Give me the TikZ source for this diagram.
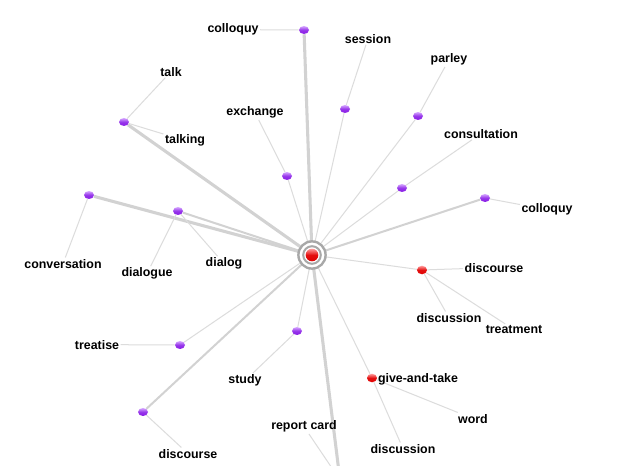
\documentclass[tikz,border=0pt]{standalone}
\usepackage{fontspec}
\setmainfont{Liberation Sans}
\usetikzlibrary{shapes.geometric,backgrounds}
\definecolor{edgegray}{HTML}{DCDCDC}
\definecolor{thickgray}{HTML}{D2D2D2}
\definecolor{ringgray}{HTML}{A8A8A8}
\definecolor{ptop}{HTML}{D6A8FF}
\definecolor{pbot}{HTML}{8A1FE6}
\definecolor{rtop}{HTML}{FF9A9A}
\definecolor{rbot}{HTML}{E00000}
\tikzset{
  lbl/.style={font=\bfseries\fontsize{9.3}{11}\selectfont, inner sep=1pt, yshift=-1.2pt},
  pball/.style={ellipse, minimum width=7.5pt, minimum height=6pt, inner sep=0pt,
    top color=ptop, bottom color=pbot, middle color=pbot!85!ptop},
  rball/.style={ellipse, minimum width=7.5pt, minimum height=6.4pt, inner sep=0pt,
    top color=rtop, bottom color=rbot, middle color=rbot!90!rtop},
  thin/.style={draw=edgegray, line width=0.75pt},
  med/.style={draw=thickgray, line width=1.5pt},
  thick/.style={draw=thickgray, line width=2.3pt},
}
\begin{document}
\begin{tikzpicture}[x=0.75pt,y=-0.75pt]
\useasboundingbox (0,0) rectangle (632,466);
\clip (0,0) rectangle (632,466);

% centre
\coordinate (c) at (312,255);

% balls
\node[pball] (b1) at (304,30) {};
\node[pball] (b2) at (345,109) {};
\node[pball] (b3) at (418,116) {};
\node[pball] (b4) at (402,188) {};
\node[pball] (b5) at (485,198) {};
\node[pball] (b6) at (287,176) {};
\node[pball] (b7) at (124,122) {};
\node[pball] (b8) at (89,195) {};
\node[pball] (b9) at (178,211) {};
\node[rball] (b10) at (422,270) {};
\node[pball] (b11) at (180,345) {};
\node[pball] (b12) at (297,331) {};
\node[rball] (b13) at (372,378) {};
\node[pball] (b14) at (143,412) {};
\node[pball] (b15) at (340,480) {};

% labels
\node[lbl] (l1) at (233,28) {colloquy};
\node[lbl] (l2) at (368,37) {session};
\node[lbl] (l3) at (449,58) {parley};
\node[lbl] (l4) at (481,132) {consultation};
\node[lbl] (l5) at (547,208) {colloquy};
\node[lbl] (l6) at (255,111) {exchange};
\node[lbl] (l7a) at (171,70) {talk};
\node[lbl] (l7b) at (185,139) {talking};
\node[lbl] (l8) at (63,262) {conversation};
\node[lbl] (l9a) at (147,272) {dialogue};
\node[lbl] (l9b) at (224,262) {dialog};
\node[lbl] (l10a) at (494,266) {discourse};
\node[lbl] (l10b) at (449,316) {discussion};
\node[lbl] (l10c) at (514,328) {treatment};
\node[lbl] (l11) at (97,343) {treatise};
\node[lbl] (l12) at (245,379) {study};
\node[lbl] (l13a) at (418,378) {give-and-take};
\node[lbl] (l13b) at (473,417) {word};
\node[lbl] (l13c) at (403,447) {discussion};
\node[lbl] (l14) at (188,452) {discourse};
\node[lbl] (l15) at (304,425) {report card};

\begin{scope}[on background layer]
\fill[white] (0,0) rectangle (632,466);
% centre spokes
\draw[thick] (c) -- (b1);
\draw[thin] (c) -- (b2);
\draw[thin] (c) -- (b3);
\draw[thin] (c) -- (b4);
\draw[med] (c) -- (b5);
\draw[thin] (c) -- (b6);
\draw[thick] (c) -- (b7);
\draw[thick] (c) -- (b8);
\draw[med] (c) -- (b9);
\draw[thin] (c) -- (b10);
\draw[thin] (c) -- (b11);
\draw[thin] (c) -- (b12);
\draw[thin] (c) -- (b13);
\draw[med] (c) -- (b14);
\draw[thick] (c) -- (b15);
% leaves
\draw[thin] (b1) -- (l1);
\draw[thin] (b2) -- (l2);
\draw[thin] (b3) -- (l3);
\draw[thin] (b4) -- (l4);
\draw[thin] (b5) -- (l5);
\draw[thin] (b6) -- (l6);
\draw[thin] (b7) -- (l7a);
\draw[thin] (b7) -- (l7b);
\draw[thin] (b8) -- (l8);
\draw[thin] (b9) -- (l9a);
\draw[thin] (b9) -- (l9b);
\draw[thin] (b10) -- (l10a);
\draw[thin] (b10) -- (l10b);
\draw[thin] (b10) -- (l10c);
\draw[thin] (b11) -- (l11);
\draw[thin] (b12) -- (l12);
\draw[thin] (b13) -- (l13b);
\draw[thin] (b13) -- (l13c);
\draw[thin] (b14) -- (l14);
\draw[thin] (b15) -- (l15);
\end{scope}

% centre node
\fill[white] (c) circle[radius=10.5pt];
\draw[ringgray, line width=1.8pt] (c) circle[radius=10.2pt];
\draw[ringgray, line width=1.5pt] (c) circle[radius=6.6pt];
\node[circle, minimum size=9.5pt, inner sep=0pt, top color=rtop, bottom color=rbot, middle color=rbot!90!rtop] (cn) at (c) {};
\end{tikzpicture}
\end{document}
